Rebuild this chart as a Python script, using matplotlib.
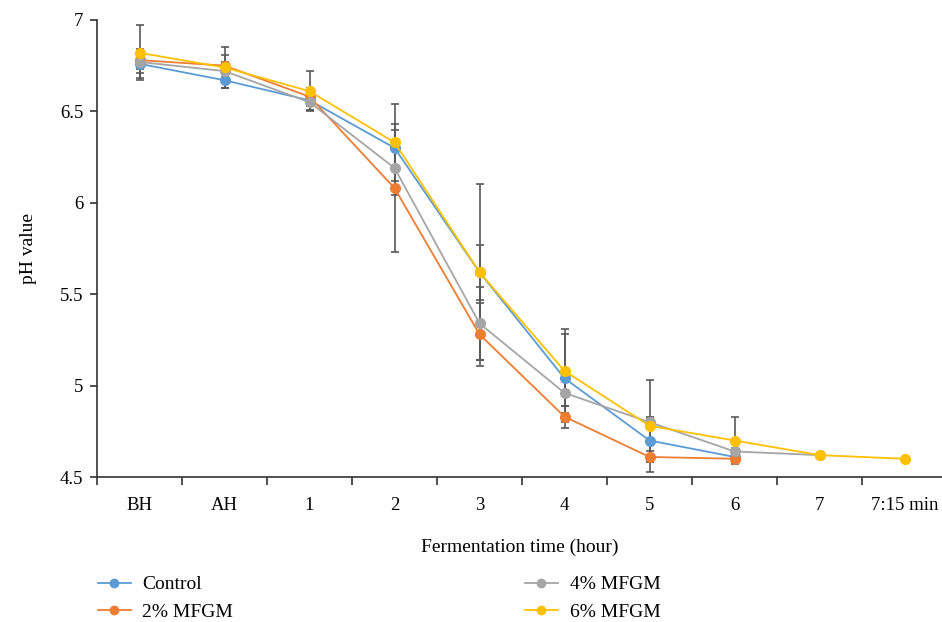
import numpy as np
from matplotlib import pyplot as plt
from matplotlib.lines import Line2D

times = ["BH", "AH", "1", "2", "3", "4", "5", "6", "7", "7:15 min"]

control = [6.76, 6.67, 6.56, 6.30, 5.62, 5.04, 4.70, 4.61]
control_err = [0.08, 0.04, 0.05, 0.10, 0.15, 0.24, 0.12, 0.02]

mfgm2 = [6.78, 6.75, 6.58, 6.08, 5.28, 4.83, 4.61, 4.60]
mfgm2_err = [0.05, 0.06, 0.05, 0.35, 0.17, 0.06, 0.03, 0.02]

mfgm4 = [6.77, 6.72, 6.55, 6.19, 5.34, 4.96, 4.80, 4.64, 4.62]
mfgm4_err = [0.06, 0.05, 0.04, 0.15, 0.20, 0.07, 0.03, 0.02, 0.0]

mfgm6 = [6.82, 6.74, 6.61, 6.33, 5.62, 5.08, 4.78, 4.70, 4.62, 4.60]
mfgm6_err = [0.15, 0.11, 0.11, 0.21, 0.48, 0.23, 0.25, 0.13, 0.0, 0.0]

series = [
    ("Control", control, control_err, "#5B9BD5"),
    ("2% MFGM", mfgm2, mfgm2_err, "#ED7D31"),
    ("4% MFGM", mfgm4, mfgm4_err, "#A5A5A5"),
    ("6% MFGM", mfgm6, mfgm6_err, "#FFC000"),
]

plt.rcParams['font.family'] = ['Liberation Serif', 'DejaVu Serif']

fig = plt.figure(figsize=(9.42, 6.22), dpi=100)
ax = fig.add_axes([0.103, 0.233, 0.897, 0.735])

handles = []
for name, vals, errs, col in series:
    x = np.arange(len(vals))
    ax.errorbar(x, vals, yerr=errs, fmt='none', ecolor='#595959',
                elinewidth=1.2, capsize=3, capthick=1.2, zorder=2)
    ax.plot(x, vals, color=col, lw=1.3, marker='o', ms=7, zorder=3)
    handles.append(Line2D([0], [0], color=col, lw=1.3, marker='o', ms=6))

ax.set_xlim(-0.5, 9.44)
ax.set_ylim(4.5, 7.0)
ax.set_yticks([4.5, 5, 5.5, 6, 6.5, 7])
ax.set_yticklabels(["4.5", "5", "5.5", "6", "6.5", "7"])

# category boundaries as major ticks, labels on minor ticks
ax.set_xticks(np.arange(-0.5, 9.5, 1.0))
ax.set_xticklabels([])
ax.set_xticks(np.arange(len(times)), minor=True)
ax.set_xticklabels(times, minor=True)
ax.tick_params(axis='x', which='major', length=6, width=1.2, color='#333333')
ax.tick_params(axis='x', which='minor', length=0, pad=14, labelsize=13.5)
ax.tick_params(axis='y', length=5, width=1.2, color='#333333', labelsize=13.5, pad=5)

for s in ['top', 'right']:
    ax.spines[s].set_visible(False)
for s in ['left', 'bottom']:
    ax.spines[s].set_linewidth(1.2)
    ax.spines[s].set_color('#333333')

ax.set_xlabel("Fermentation time (hour)", fontsize=14, labelpad=18)
ax.set_ylabel("pH value", fontsize=14, labelpad=16)

fig.legend(handles, [s[0] for s in series], ncol=2, frameon=False,
           loc='lower left', bbox_to_anchor=(0.085, -0.026), fontsize=14,
           columnspacing=15.0, handlelength=1.7, handletextpad=0.6,
           labelspacing=0.5)

plt.savefig("out.png", dpi=100)
